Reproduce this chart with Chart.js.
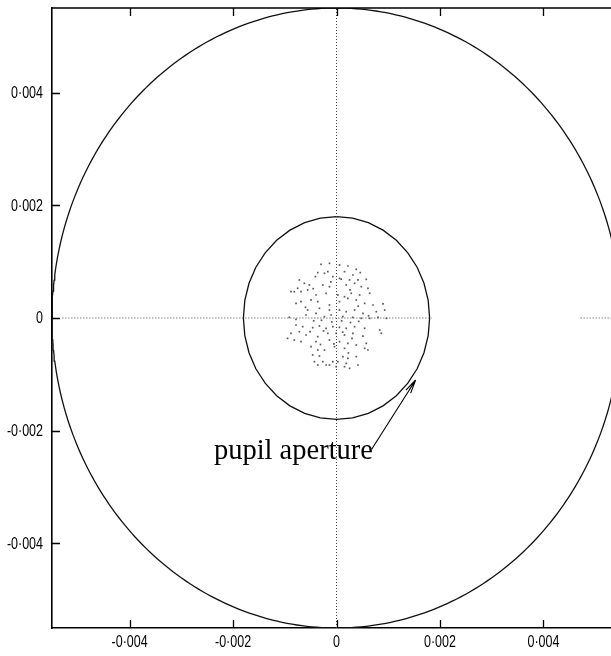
<!DOCTYPE html>
<html>
<head>
<meta charset="utf-8">
<script src="https://cdn.jsdelivr.net/npm/chart.js@4/dist/chart.umd.min.js"></script>
<style>
html,body{margin:0;padding:0;background:#fff;overflow:hidden;}
#wrap{position:relative;width:626px;height:656px;}
</style>
</head>
<body>
<div id="wrap"><canvas id="c" width="626" height="656"></canvas></div>
<script>
// ---- data ----
const xTicks = [-0.004, -0.002, 0, 0.002, 0.004];
const yTicks = [-0.004, -0.002, 0, 0.002, 0.004];
const xTickLabels = ['-0·004', '-0·002', '0', '0·002', '0·004'];
const yTickLabels = ['-0·004', '-0·002', '0', '0·002', '0·004'];
const axisMin = -0.0055, axisMax = 0.0055;
const outerRadius = 0.0055;   // outer circle
const pupilRadius = 0.0018;   // pupil aperture
const spotX = [
 -2.98e-4,-1.36e-4,0.58e-4,2.20e-4,3.82e-4,4.60e-4,-3.62e-4,-2.33e-4,-1.68e-4,1.55e-4,
 3.17e-4,-4.08e-4,-0.71e-4,0.58e-4,2.52e-4,4.14e-4,5.76e-4,-7.18e-4,-6.21e-4,-5.24e-4,
 -7.51e-4,-8.16e-4,-6.86e-4,-5.57e-4,-2.65e-4,-1.36e-4,1.88e-4,3.50e-4,4.79e-4,6.08e-4,
 -8.80e-4,-3.95e-4,-2.01e-4,0.26e-4,1.55e-4,2.85e-4,4.47e-4,6.41e-4,-7.83e-4,-6.86e-4,
 -4.92e-4,-3.62e-4,-1.36e-4,0.58e-4,2.20e-4,3.82e-4,5.44e-4,7.06e-4,9.00e-4,-5.57e-4,
 -3.30e-4,-1.36e-4,0.58e-4,1.88e-4,3.50e-4,5.11e-4,7.70e-4,9.32e-4,-5.89e-4,-3.95e-4,
 -2.33e-4,-1.04e-4,1.23e-4,3.17e-4,4.79e-4,6.41e-4,8.03e-4,9.64e-4,-9.13e-4,-7.83e-4,
 -7.83e-4,-6.54e-4,-4.60e-4,-3.30e-4,-2.01e-4,-0.71e-4,0.58e-4,1.88e-4,3.50e-4,5.44e-4,
 8.35e-4,-8.80e-4,-7.18e-4,-5.89e-4,-3.62e-4,-1.68e-4,-0.06e-4,1.55e-4,3.17e-4,5.11e-4,
 8.67e-4,-9.45e-4,-8.16e-4,-6.86e-4,-3.95e-4,-1.36e-4,0.58e-4,2.20e-4,3.82e-4,5.76e-4,
 5.44e-4,6.08e-4,-4.92e-4,-3.62e-4,-2.33e-4,-0.39e-4,1.55e-4,-4.60e-4,-3.30e-4,-4.27e-4,
 -1.36e-4,-0.06e-4,1.55e-4,2.52e-4,4.14e-4,1.23e-4,2.20e-4,3.82e-4,-3.62e-4,-2.65e-4,
 -0.71e-4,-2.01e-4,1.88e-4,0.26e-4,
 -4.40e-4,-2.90e-4,-0.90e-4,1.00e-4,2.70e-4,4.30e-4,-6.00e-4,-4.50e-4,-1.10e-4,0.90e-4,
 2.60e-4,4.20e-4,6.20e-4,-5.10e-4,-2.50e-4,1.20e-4,3.00e-4,-3.10e-4,-0.50e-4,2.30e-4
];
const spotY = [
 9.53e-4,9.70e-4,9.41e-4,9.23e-4,8.64e-4,8.05e-4,8.05e-4,7.93e-4,8.22e-4,8.22e-4,
 7.63e-4,7.34e-4,7.34e-4,7.04e-4,6.75e-4,6.75e-4,6.86e-4,6.75e-4,6.15e-4,5.86e-4,
 5.27e-4,4.67e-4,4.67e-4,4.97e-4,5.86e-4,5.56e-4,5.86e-4,6.15e-4,5.56e-4,5.27e-4,
 4.67e-4,4.08e-4,4.38e-4,4.08e-4,3.79e-4,4.38e-4,4.08e-4,4.38e-4,2.60e-4,2.90e-4,
 3.20e-4,2.90e-4,2.31e-4,2.90e-4,3.49e-4,3.20e-4,2.60e-4,2.31e-4,2.49e-4,1.42e-4,
 1.72e-4,1.42e-4,1.42e-4,1.12e-4,1.42e-4,0.83e-4,1.12e-4,1.42e-4,0.53e-4,0.83e-4,
 0.24e-4,0.53e-4,0.24e-4,0.12e-4,-0.06e-4,-0.06e-4,0.12e-4,-0.06e-4,0.12e-4,-0.24e-4,
 -1.24e-4,-1.54e-4,-1.72e-4,-1.42e-4,-1.83e-4,-1.54e-4,-1.66e-4,-1.83e-4,-1.54e-4,-1.83e-4,
 -2.13e-4,-2.72e-4,-2.43e-4,-3.02e-4,-3.31e-4,-2.72e-4,-2.72e-4,-3.02e-4,-2.72e-4,-3.20e-4,
 -2.72e-4,-3.61e-4,-3.91e-4,-4.20e-4,-4.20e-4,-3.91e-4,-4.20e-4,-4.50e-4,-4.79e-4,-4.50e-4,
 -5.38e-4,-5.68e-4,-5.09e-4,-5.68e-4,-5.68e-4,-5.09e-4,-5.38e-4,-6.57e-4,-6.75e-4,-7.75e-4,
 -8.34e-4,-8.64e-4,-8.64e-4,-8.93e-4,-8.34e-4,-6.86e-4,-7.16e-4,-6.86e-4,-8.34e-4,-7.75e-4,
 -7.75e-4,-8.34e-4,-8.05e-4,-7.75e-4,
 -0.50e-4,-0.40e-4,-0.70e-4,-0.50e-4,-0.80e-4,-0.60e-4,1.90e-4,5.20e-4,6.40e-4,6.90e-4,
 5.00e-4,2.10e-4,0.40e-4,-2.40e-4,-2.30e-4,-2.50e-4,-3.60e-4,-4.70e-4,-4.60e-4,-6.20e-4
];
// dotted axis segments (visible parts in the reference)
const hAxisSegX = [-0.0053, 0.00184, null, 0.00472, 0.0055];
const vAxisSegY = [-0.0055, 0.0055];
const annotationText = 'pupil aperture';
const annotationPos = {x: -0.00237, y: -0.00250};
const arrowFrom = {x: 0.00068, y: -0.00233};
const arrowTo = {x: 0.00153, y: -0.00110};

// ---- build datasets ----
function circlePts(r, n) {
  const pts = [];
  for (let i = 0; i <= n; i++) {
    const a = Math.PI - 2 * Math.PI * i / n;
    pts.push({x: r * Math.cos(a), y: r * Math.sin(a)});
  }
  return pts;
}
const spots = spotX.map((x, i) => ({x: x, y: spotY[i]}));
const hAxis = hAxisSegX.map(x => x === null ? {x: null, y: null} : {x: x, y: 0});
const vAxis = vAxisSegY.map(y => ({x: 0, y: y}));

const LABEL_FONT = '16px "Liberation Sans", Arial, sans-serif';
const LABEL_SX = 0.78;
function narrowText(ctx, txt, x, y, align) {
  ctx.save();
  ctx.translate(x, y);
  ctx.scale(LABEL_SX, 1);
  ctx.textAlign = align;
  ctx.fillText(txt, 0, 0);
  ctx.restore();
}

const frameTicksLabels = {
  id: 'frameTicksLabels',
  afterDraw(chart) {
    const ctx = chart.ctx, a = chart.chartArea;
    const xs = chart.scales.x, ys = chart.scales.y;
    ctx.save();
    ctx.strokeStyle = '#000';
    ctx.lineWidth = 1.6;
    ctx.beginPath();
    ctx.moveTo(a.left, a.top); ctx.lineTo(a.right, a.top);
    ctx.moveTo(a.right, a.top); ctx.lineTo(a.right, a.bottom);
    ctx.stroke();
    ctx.lineWidth = 1.3;
    ctx.beginPath();
    xTicks.forEach(v => {
      const px = Math.round(xs.getPixelForValue(v)) + 0.5;
      ctx.moveTo(px, a.bottom); ctx.lineTo(px, a.bottom - 8);
      ctx.moveTo(px, a.top); ctx.lineTo(px, a.top + 8);
    });
    yTicks.forEach(v => {
      const py = Math.round(ys.getPixelForValue(v)) + 0.5;
      ctx.moveTo(a.left, py); ctx.lineTo(a.left + 8, py);
      ctx.moveTo(a.right, py); ctx.lineTo(a.right - 8, py);
    });
    ctx.stroke();
    // tick labels
    ctx.fillStyle = '#000';
    ctx.font = LABEL_FONT;
    ctx.textBaseline = 'middle';
    yTicks.forEach((v, i) => {
      narrowText(ctx, yTickLabels[i], a.left - 9, ys.getPixelForValue(v) + 1, 'right');
    });
    xTicks.forEach((v, i) => {
      narrowText(ctx, xTickLabels[i], xs.getPixelForValue(v), a.bottom + 15, 'center');
    });
    // annotation
    const tx = xs.getPixelForValue(annotationPos.x), ty = ys.getPixelForValue(annotationPos.y);
    ctx.font = '28.5px "Liberation Serif", "Times New Roman", serif';
    ctx.textAlign = 'left';
    ctx.textBaseline = 'alphabetic';
    ctx.fillText(annotationText, tx, ty);
    const x0 = xs.getPixelForValue(arrowFrom.x), y0 = ys.getPixelForValue(arrowFrom.y);
    const x1 = xs.getPixelForValue(arrowTo.x), y1 = ys.getPixelForValue(arrowTo.y);
    ctx.lineWidth = 1.1;
    ctx.beginPath();
    ctx.moveTo(x0, y0); ctx.lineTo(x1, y1);
    const ang = Math.atan2(y1 - y0, x1 - x0), L = 14, w = 0.2;
    ctx.moveTo(x1, y1); ctx.lineTo(x1 - L * Math.cos(ang - w), y1 - L * Math.sin(ang - w));
    ctx.moveTo(x1, y1); ctx.lineTo(x1 - L * Math.cos(ang + w), y1 - L * Math.sin(ang + w));
    ctx.moveTo(x1, y1); ctx.lineTo(x1 - L * 0.9 * Math.cos(ang), y1 - L * 0.9 * Math.sin(ang));
    ctx.stroke();
    ctx.restore();
  }
};

new Chart(document.getElementById('c'), {
  type: 'scatter',
  data: {
    datasets: [
      {data: vAxis, showLine: true, borderColor: '#444', borderWidth: 1, borderDash: [1, 2], pointRadius: 0, spanGaps: false},
      {data: hAxis, showLine: true, borderColor: '#444', borderWidth: 1, borderDash: [1, 2], pointRadius: 0, spanGaps: false},
      {data: spots, showLine: false, pointStyle: 'rect', pointRadius: 1.2, backgroundColor: '#5a5a5a', borderWidth: 0},
      {data: circlePts(pupilRadius, 36), showLine: true, borderColor: '#111', borderWidth: 1.3, pointRadius: 0, tension: 0},
      {data: circlePts(outerRadius, 360), showLine: true, borderColor: '#111', borderWidth: 1.3, pointRadius: 0, tension: 0}
    ]
  },
  options: {
    responsive: false,
    animation: false,
    events: [],
    layout: {padding: {top: 8, right: 5, left: 0, bottom: 0}},
    plugins: {legend: {display: false}, tooltip: {enabled: false}},
    scales: {
      x: {
        type: 'linear', min: axisMin, max: axisMax,
        afterBuildTicks: s => { s.ticks = xTicks.map(v => ({value: v})); },
        afterFit: s => { s.height = 28; },
        grid: {display: false, drawTicks: false},
        border: {display: true, color: '#000', width: 1.6},
        ticks: {display: false}
      },
      y: {
        type: 'linear', min: axisMin, max: axisMax,
        afterBuildTicks: s => { s.ticks = yTicks.map(v => ({value: v})); },
        afterFit: s => { s.width = 52; },
        grid: {display: false, drawTicks: false},
        border: {display: true, color: '#000', width: 1.6},
        ticks: {display: false}
      }
    }
  },
  plugins: [frameTicksLabels]
});
</script>
</body>
</html>
